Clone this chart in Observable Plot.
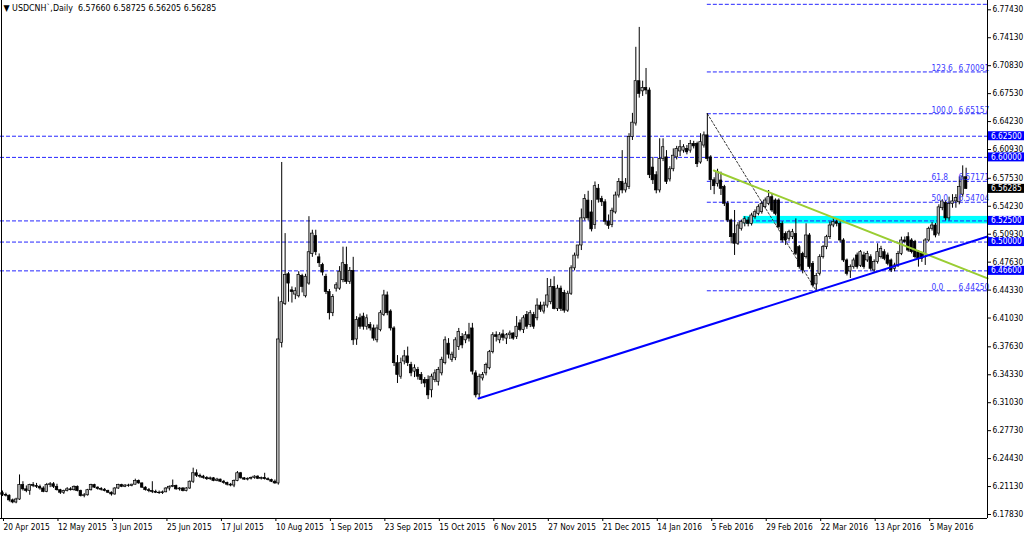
<!DOCTYPE html>
<html><head><meta charset="utf-8">
<script src="https://cdn.jsdelivr.net/npm/d3@7"></script>
<script src="https://cdn.jsdelivr.net/npm/@observablehq/plot@0.6"></script>
<style>
html,body{margin:0;padding:0;background:#fff;}
#chart{position:relative;width:1024px;height:536px;overflow:hidden;}
svg{display:block;}
</style></head><body><div id="chart"></div>
<script>
// ---- Daily OHLC, bar index 0 = 20 Apr 2015 ----
const opens = [
6.2035,6.2015,6.2005,6.1950,6.1925,6.1960,6.2130,6.2080,6.2060,6.2130,
6.2120,6.2110,6.2090,6.2050,6.2130,6.2140,6.2110,6.2070,6.2040,6.2060,
6.2080,6.2070,6.2110,6.2060,6.2000,6.2010,6.2070,6.2130,6.2100,6.2085,
6.2075,6.2060,6.2040,6.2020,6.2090,6.2130,6.2110,6.2125,6.2120,6.2135,
6.2180,6.2150,6.2100,6.2070,6.2060,6.2050,6.2040,6.2035,6.2045,6.2090,
6.2110,6.2120,6.2080,6.2090,6.2060,6.2090,6.2170,6.2270,6.2240,6.2230,
6.2215,6.2200,6.2210,6.2180,6.2195,6.2170,6.2155,6.2135,6.2125,6.2180,
6.2270,6.2210,6.2195,6.2205,6.2215,6.2230,6.2205,6.2215,6.2200,6.2190,
6.2170,6.2150,6.3810,6.4270,6.4620,6.4430,6.4380,6.4360,6.4600,6.4360,
6.4510,6.4860,6.5070,6.4820,6.4730,6.4590,6.4410,6.4160,6.4450,6.4450,
6.4550,6.4730,6.4530,6.4660,6.3850,6.4100,6.4120,6.4000,6.4020,6.3980,
6.3840,6.3960,6.4140,6.4370,6.4180,6.3980,6.3570,6.3410,6.3590,6.3650,
6.3550,6.3470,6.3490,6.3430,6.3370,6.3370,6.3250,6.3370,6.3350,6.3450,
6.3570,6.3800,6.3610,6.3630,6.3760,6.3880,6.3840,6.3900,6.3980,6.3450,
6.3200,6.3390,6.3450,6.3510,6.3700,6.3900,6.3840,6.3910,6.3860,6.3900,
6.3920,6.3880,6.4040,6.3960,6.4140,6.4020,6.4140,6.4100,6.4250,6.4180,
6.4250,6.4290,6.4470,6.4210,6.4450,6.4400,6.4190,6.4390,6.4690,6.4840,
6.4960,6.5280,6.5490,6.5350,6.5200,6.5630,6.5510,6.5470,6.5240,6.5200,
6.5350,6.5550,6.5710,6.5610,6.5650,6.6240,6.6400,6.6900,6.6780,6.6820,
6.6790,6.5880,6.5790,6.5610,6.5980,6.6000,6.5740,6.5860,6.6000,6.6070,
6.6080,6.6100,6.6080,6.6160,6.6160,6.5940,6.6140,6.6260,6.6000,6.5730,
6.5688,6.5727,6.5649,6.5452,6.5255,6.5097,6.4980,6.5157,6.5220,6.5255,
6.5215,6.5294,6.5333,6.5353,6.5412,6.5452,6.5530,6.5491,6.5491,6.5216,
6.5097,6.5039,6.5058,6.5097,6.4940,6.4861,6.4822,6.5078,6.4743,6.4500,
6.4625,6.4822,6.4940,6.5058,6.5196,6.5235,6.5216,6.5019,6.4783,6.4653,
6.4704,6.4842,6.4720,6.4842,6.4783,6.4822,6.4665,6.4763,6.4822,6.4881,
6.4842,6.4783,6.4684,6.4724,6.4861,6.5019,6.5058,6.5019,6.5000,6.4881,
6.4861,6.4822,6.5019,6.5157,6.5196,6.5100,6.5400,6.5460,6.5280,6.5450,
6.5480,6.5470,6.5560,6.57660];
const highs = [
6.2060,6.2035,6.2015,6.1965,6.1975,6.2250,6.2170,6.2120,6.2140,6.2160,
6.2150,6.2130,6.2110,6.2150,6.2160,6.2160,6.2140,6.2080,6.2070,6.2100,
6.2100,6.2120,6.2120,6.2070,6.2030,6.2080,6.2140,6.2140,6.2110,6.2100,
6.2090,6.2070,6.2050,6.2100,6.2140,6.2140,6.2135,6.2140,6.2140,6.2200,
6.2190,6.2155,6.2110,6.2090,6.2170,6.2070,6.2060,6.2060,6.2100,6.2120,
6.2190,6.2130,6.2100,6.2100,6.2100,6.2180,6.2330,6.2310,6.2260,6.2245,
6.2230,6.2225,6.2220,6.2210,6.2200,6.2185,6.2165,6.2150,6.2190,6.2290,
6.2280,6.2220,6.2215,6.2225,6.2240,6.2240,6.2225,6.2270,6.2215,6.2200,
6.2190,6.4350,6.5940,6.5100,6.4640,6.4470,6.4460,6.4650,6.4620,6.4620,
6.5300,6.5140,6.5140,6.4860,6.4750,6.4620,6.4440,6.4380,6.4520,6.4710,
6.4940,6.4940,6.4700,6.4820,6.4120,6.4150,6.4160,6.4140,6.4050,6.4020,
6.4020,6.4190,6.4430,6.4410,6.4200,6.4000,6.3660,6.3630,6.3720,6.3760,
6.3580,6.3550,6.3520,6.3460,6.3400,6.3420,6.3440,6.3490,6.3520,6.3640,
6.3880,6.3860,6.3700,6.3870,6.3980,6.3920,6.3940,6.4040,6.4040,6.3480,
6.3440,6.3460,6.3570,6.3720,6.3930,6.3940,6.3930,6.3960,6.3920,6.3950,
6.3930,6.4120,6.4080,6.4130,6.4180,6.4190,6.4170,6.4330,6.4290,6.4290,
6.4570,6.4560,6.4590,6.4490,6.4480,6.4430,6.4420,6.4720,6.4870,6.4960,
6.5390,6.5560,6.5600,6.5490,6.5710,6.5680,6.5540,6.5500,6.5320,6.5400,
6.5590,6.5750,6.6080,6.5750,6.6280,6.6520,6.7300,6.7535,6.6900,6.7050,
6.6820,6.6000,6.5830,6.6220,6.6220,6.6080,6.5890,6.6100,6.6130,6.6200,
6.6150,6.6140,6.6200,6.6190,6.6180,6.6280,6.6300,6.65157,6.6020,6.5760,
6.5860,6.5826,6.5670,6.5480,6.5270,6.5373,6.5230,6.5260,6.5300,6.5290,
6.5340,6.5380,6.5440,6.5480,6.5520,6.5609,6.5570,6.5510,6.5510,6.5240,
6.5120,6.5140,6.5150,6.5274,6.4960,6.4880,6.5216,6.5100,6.4770,6.4630,
6.4850,6.4960,6.5080,6.5236,6.5274,6.5270,6.5240,6.5040,6.4800,6.4730,
6.4810,6.4870,6.4900,6.4880,6.4890,6.4850,6.4790,6.4980,6.4950,6.4910,
6.4870,6.4800,6.4750,6.4890,6.5058,6.5060,6.5110,6.5040,6.5020,6.4900,
6.4880,6.5040,6.5176,6.5230,6.5220,6.5440,6.5500,6.5490,6.5530,6.5560,
6.5560,6.5770,6.5900,6.58725];
const lows = [
6.1995,6.1990,6.1930,6.1910,6.1910,6.1950,6.2060,6.2040,6.2010,6.2100,
6.2090,6.2070,6.2040,6.2040,6.2100,6.2090,6.2060,6.2020,6.2020,6.2050,
6.2060,6.2060,6.2050,6.1990,6.1980,6.2000,6.2060,6.2090,6.2070,6.2060,
6.2050,6.2030,6.2000,6.2010,6.2080,6.2100,6.2100,6.2105,6.2110,6.2130,
6.2140,6.2090,6.2060,6.2040,6.2030,6.2030,6.2020,6.2020,6.2040,6.2060,
6.2100,6.2070,6.2060,6.2050,6.2050,6.2080,6.2150,6.2220,6.2210,6.2200,
6.2185,6.2185,6.2170,6.2170,6.2160,6.2140,6.2120,6.2110,6.2100,6.2170,
6.2200,6.2185,6.2180,6.2190,6.2200,6.2195,6.2190,6.2190,6.2180,6.2160,
6.2140,6.2130,6.3750,6.4250,6.4290,6.4280,6.4320,6.4340,6.4400,6.4340,
6.4490,6.4820,6.4840,6.4700,6.4600,6.4380,6.4080,6.4120,6.4410,6.4430,
6.4520,6.4500,6.4500,6.3780,6.3780,6.3970,6.3960,6.3960,6.3950,6.3830,
6.3810,6.3940,6.4120,6.4130,6.3950,6.3530,6.3330,6.3380,6.3550,6.3530,
6.3410,6.3400,6.3370,6.3320,6.3280,6.3140,6.3160,6.3340,6.3300,6.3420,
6.3550,6.3620,6.3580,6.3600,6.3720,6.3740,6.3800,6.3820,6.3430,6.3160,
6.3160,6.3360,6.3420,6.3490,6.3680,6.3820,6.3800,6.3830,6.3790,6.3850,
6.3840,6.3850,6.3940,6.3920,6.3970,6.3990,6.3970,6.4070,6.4170,6.4150,
6.4220,6.4260,6.4200,6.4180,6.4180,6.4160,6.4170,6.4370,6.4660,6.4800,
6.4900,6.5250,6.5250,6.5120,6.5150,6.5460,6.5420,6.5200,6.5150,6.5170,
6.5330,6.5520,6.5570,6.5580,6.5620,6.6200,6.6370,6.6700,6.6720,6.6740,
6.5750,6.5680,6.5570,6.5580,6.5950,6.5680,6.5710,6.5830,6.5970,6.6010,
6.6050,6.6030,6.6050,6.6100,6.5880,6.5920,6.6110,6.5950,6.5610,6.5560,
6.5650,6.5550,6.5420,6.5230,6.4980,6.4842,6.4960,6.5130,6.5180,6.5180,
6.5190,6.5270,6.5310,6.5330,6.5390,6.5430,6.5350,6.5310,6.5150,6.4990,
6.4960,6.5010,6.5030,6.4840,6.4680,6.4625,6.4800,6.4680,6.4460,6.4425,
6.4600,6.4800,6.4910,6.5030,6.5170,6.5180,6.4990,6.4760,6.4600,6.4570,
6.4680,6.4680,6.4700,6.4680,6.4760,6.4660,6.4640,6.4740,6.4800,6.4780,
6.4720,6.4640,6.4650,6.4700,6.4840,6.4980,6.4880,6.4860,6.4800,6.4704,
6.4760,6.4724,6.5000,6.5130,6.5050,6.5070,6.5370,6.5250,6.5250,6.5400,
6.5400,6.5440,6.5530,6.56205];
const closes = [
6.2015,6.2005,6.1950,6.1925,6.1960,6.2130,6.2080,6.2060,6.2130,6.2120,
6.2110,6.2090,6.2050,6.2130,6.2140,6.2110,6.2070,6.2040,6.2060,6.2080,
6.2070,6.2110,6.2060,6.2000,6.2010,6.2070,6.2130,6.2100,6.2085,6.2075,
6.2060,6.2040,6.2020,6.2090,6.2130,6.2110,6.2125,6.2120,6.2135,6.2180,
6.2150,6.2100,6.2070,6.2060,6.2050,6.2040,6.2035,6.2045,6.2090,6.2110,
6.2120,6.2080,6.2090,6.2060,6.2090,6.2170,6.2270,6.2240,6.2230,6.2215,
6.2200,6.2210,6.2180,6.2195,6.2170,6.2155,6.2135,6.2125,6.2180,6.2270,
6.2210,6.2195,6.2205,6.2215,6.2230,6.2205,6.2215,6.2200,6.2190,6.2170,
6.2150,6.3850,6.4290,6.4610,6.4510,6.4410,6.4420,6.4610,6.4470,6.4590,
6.4880,6.5100,6.4880,6.4750,6.4640,6.4410,6.4160,6.4350,6.4490,6.4650,
6.4750,6.4530,6.4660,6.3840,6.4080,6.4000,6.4000,6.4100,6.3980,6.3860,
6.3980,6.4160,6.4370,6.4160,6.3980,6.3570,6.3430,6.3570,6.3650,6.3570,
6.3450,6.3510,6.3410,6.3370,6.3330,6.3190,6.3410,6.3450,6.3490,6.3610,
6.3840,6.3670,6.3670,6.3840,6.3940,6.3780,6.3900,6.3860,6.3470,6.3190,
6.3410,6.3430,6.3550,6.3700,6.3900,6.3880,6.3900,6.3870,6.3900,6.3920,
6.3860,6.4000,6.3960,6.4100,6.4000,6.4160,6.4000,6.4250,6.4200,6.4250,
6.4370,6.4470,6.4210,6.4450,6.4210,6.4190,6.4390,6.4690,6.4840,6.4960,
6.5280,6.5510,6.5280,6.5150,6.5660,6.5500,6.5470,6.5240,6.5190,6.5370,
6.5550,6.5710,6.5610,6.5690,6.6240,6.6410,6.6900,6.6750,6.6820,6.6790,
6.5790,6.5730,6.5610,6.5980,6.6120,6.5710,6.5860,6.6020,6.6100,6.6120,
6.6120,6.6060,6.6160,6.6130,6.5920,6.6180,6.6260,6.5980,6.5730,6.5660,
6.5826,6.5629,6.5452,6.5255,6.5058,6.4980,6.5196,6.5235,6.5270,6.5215,
6.5314,6.5353,6.5412,6.5452,6.5491,6.5530,6.5373,6.5333,6.5176,6.5019,
6.5019,6.5117,6.5117,6.4861,6.4704,6.4665,6.5078,6.4704,6.4488,6.4600,
6.4822,6.4940,6.5058,6.5196,6.5235,6.5216,6.5019,6.4783,6.4625,6.4704,
6.4783,6.4704,6.4881,6.4704,6.4861,6.4684,6.4763,6.4881,6.4920,6.4802,
6.4743,6.4665,6.4724,6.4861,6.5019,6.5000,6.4900,6.4881,6.4822,6.4802,
6.4802,6.5019,6.5157,6.5196,6.5078,6.5410,6.5480,6.5280,6.5450,6.5480,
6.5520,6.5650,6.5766,6.56285];

// ---- axis ticks ----
const xTickBars = [0,16,32,48,64,80,96,112,128,144,160,176,192,208,224,240,256,272];
const xTickLabels = ["20 Apr 2015","12 May 2015","3 Jun 2015","25 Jun 2015","17 Jul 2015","10 Aug 2015","1 Sep 2015","23 Sep 2015","15 Oct 2015","6 Nov 2015","27 Nov 2015","21 Dec 2015","14 Jan 2016","5 Feb 2016","29 Feb 2016","22 Mar 2016","13 Apr 2016","5 May 2016"];
const yTicks = [6.17830,6.21130,6.24430,6.27730,6.31030,6.34330,6.37630,6.41030,6.44330,6.47630,6.50930,6.54230,6.57530,6.60930,6.64230,6.67530,6.70830,6.74130,6.77430];

// ---- drawn objects ----
const hLevels = [6.62500, 6.60000, 6.52500, 6.50000, 6.46600];
const lastPrice = 6.56285;
const fibNames  = ["0.0","50.0","61.8","100.0","123.6","161.8"];
const fibValues = [6.44250, 6.54704, 6.57171, 6.65157, 6.70091, 6.78077];
const fibFrom = {i: 207, p: 6.65157};
const fibTo   = {i: 239, p: 6.44250};
const blueTrend  = [{i: 139.8, p: 6.3153}, {i: 289.3, p: 6.5066}];
const greenTrend = [{i: 208.9, p: 6.5845}, {i: 289.3, p: 6.4572}];
const cyanZone = {i: 217.6, p1: 6.5215, p2: 6.5303};
const titleText = "\u25BC USDCNH`,Daily  6.57660 6.58725 6.56205 6.56285";

const xDomain = [-0.587, 289.28];
const yDomain = [6.17357, 6.78528];

const bars = opens.map((o, i) => ({i, open: o, high: highs[i], low: lows[i], close: closes[i]}));
const bulls = bars.filter(d => d.close >= d.open);
const bears = bars.filter(d => d.close < d.open);
const fibs = fibValues.map((v, k) => ({v, name: fibNames[k]}));
// the 161.8 caption sits above the chart top and is not shown
const fibTexts = fibs.filter(d => d.v < yDomain[1] - 0.01);

const FONT = '"DejaVu Sans Condensed","DejaVu Sans",sans-serif';
const lineBlue = "#2626ff";

const chart = Plot.plot({
  width: 1024, height: 536,
  marginLeft: 0, marginRight: 37, marginTop: 0, marginBottom: 18,
  style: {fontFamily: FONT, fontSize: "8px", background: "#fff", color: "#000"},
  x: {type: "linear", domain: xDomain, label: null},
  y: {type: "linear", domain: yDomain, label: null},
  marks: [
    Plot.rect([cyanZone], {x1: "i", x2: () => xDomain[1], y1: "p1", y2: "p2", fill: "#00ffff"}),
    Plot.ruleY(hLevels, {y: d => d, stroke: lineBlue, strokeWidth: 1, strokeDasharray: "4,2"}),
    Plot.ruleY(fibs, {y: "v", x1: () => fibFrom.i, x2: () => xDomain[1], stroke: lineBlue, strokeWidth: 1, strokeDasharray: "4,2"}),
    Plot.line([fibFrom, fibTo], {x: "i", y: "p", stroke: "#333", strokeWidth: 1, strokeDasharray: "2,2"}),
    Plot.ruleX(bars, {x: "i", y1: "low", y2: "high", stroke: "#000", strokeWidth: 1}),
    Plot.rect(bulls, {x1: d => d.i - 0.37, x2: d => d.i + 0.37, y1: "open", y2: "close", fill: "#b4b4b4", stroke: "#000", strokeWidth: 0.7}),
    Plot.rect(bears, {x1: d => d.i - 0.37, x2: d => d.i + 0.37, y1: "open", y2: "close", fill: "#000", stroke: "#000", strokeWidth: 0.7}),
    Plot.line(greenTrend, {x: "i", y: "p", stroke: "#9acd32", strokeWidth: 2}),
    Plot.line(blueTrend, {x: "i", y: "p", stroke: "#0000ff", strokeWidth: 2}),
    Plot.text(fibTexts, {y: "v", text: "name", frameAnchor: "right", textAnchor: "start", lineAnchor: "bottom", dx: -56, dy: -1, fill: "#3a3aff", fontSize: 8.3}),
    Plot.text(fibTexts, {y: "v", text: d => d.v.toFixed(5), frameAnchor: "right", textAnchor: "start", lineAnchor: "bottom", dx: -29, dy: -1, fill: "#3a3aff", fontSize: 8.3}),
    Plot.ruleY([yDomain[0]], {stroke: "#000", strokeWidth: 1}),
    Plot.ruleX([xDomain[1]], {stroke: "#000", strokeWidth: 1}),
    Plot.ruleX([xDomain[0]], {stroke: "#000", strokeWidth: 1, dx: 1}),
    Plot.axisY(yTicks, {anchor: "right", tickSize: 3, tickPadding: 2, tickFormat: d => d.toFixed(5), fontSize: 8.3, color: "#000", label: null}),
    Plot.axisX(xTickBars, {anchor: "bottom", tickSize: 3, tickPadding: 3, tickFormat: d => xTickLabels[xTickBars.indexOf(d)], textAnchor: "start", dx: 1, fontSize: 8.3, label: null}),
    Plot.text([titleText], {frameAnchor: "top-left", textAnchor: "start", lineAnchor: "middle", dx: 3, dy: 8, fontSize: 8.8, fill: "#000"})
  ]
});

document.getElementById("chart").appendChild(chart);

// right-axis price tags drawn on the Plot scale
const yS = chart.scale("y");
const tags = hLevels.map(v => ({v, bg: "#0000ff"})).concat([{v: lastPrice, bg: "#000"}]);
const g = d3.select(chart).append("g").attr("font-family", FONT).attr("font-size", 8.3).attr("text-anchor", "start");
tags.forEach(t => {
  const yy = yS.apply(t.v);
  g.append("rect").attr("x", 988).attr("y", yy - 4.5).attr("width", 36).attr("height", 9).attr("fill", t.bg);
  g.append("text").attr("x", 991).attr("y", yy).attr("dy", "0.35em").attr("text-anchor", "start").attr("fill", "#fff").text(t.v.toFixed(5));
});
</script>
</body></html>
